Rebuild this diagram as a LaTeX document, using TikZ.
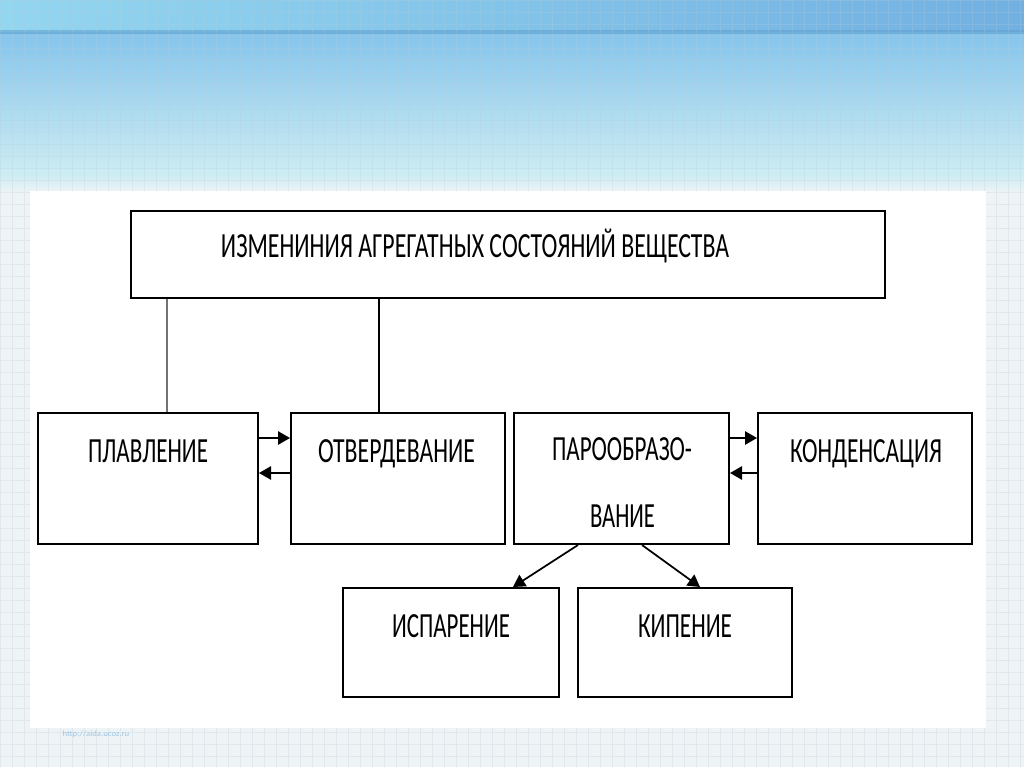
\documentclass[tikz,border=0pt]{standalone}
\usepackage{fontspec}
\setmainfont{Carlito}
\usetikzlibrary{arrows.meta,calc,fit}
\newcommand\fitw[2]{\resizebox{#1}{\height}{#2}}
\definecolor{bgc}{HTML}{EEF3F6}
\definecolor{gridc}{HTML}{B9CBD6}
\definecolor{banA}{HTML}{84C4EC}
\definecolor{banB}{HTML}{CDEDF3}
\definecolor{stripL}{HTML}{92D6F0}
\definecolor{stripR}{HTML}{72B0E2}
\definecolor{stripline}{HTML}{5F9FCF}
\definecolor{urlc}{HTML}{9CC4E4}
\begin{document}
\begin{tikzpicture}[x=0.75pt,y=-0.75pt,
  box/.style={draw=black, line width=1.5pt, fill=white, inner sep=0pt},
  lbl/.style={anchor=base, inner sep=0pt, text=black, font=\fontsize{26.5}{30}\selectfont},
  arr/.style={-{Triangle[length=9pt,width=10pt]}, line width=1.3pt},
  link/.style={line width=1pt}]
\useasboundingbox (0,0) rectangle (1024,767);
% background
\fill[bgc] (0,0) rectangle (1024,767);
\shade[top color=banA, bottom color=banB] (0,32) rectangle (1024,175);
\shade[left color=stripL, right color=stripR] (0,0) rectangle (1024,32);
\fill[stripline, opacity=0.55] (0,30) rectangle (1024,34);
\shade[top color=banB, bottom color=bgc] (0,175) rectangle (1024,192);
\draw[gridc, opacity=0.25, line width=0.4pt, step=9pt] (0,0) grid (1024,767);
\fill[white] (30,191) rectangle (986,728);
\node[anchor=base, inner sep=0pt, text=urlc, font=\fontsize{6}{7}\selectfont] (url) at (96,736) {\fitw{50pt}{http://aida.ucoz.ru}};
% boxes
\node[box, fit={(131,211) (885,298)}] (top) {};
\node[box, fit={(38,413) (258,544)}] (pl) {};
\node[box, fit={(291,413) (505,544)}] (otv) {};
\node[box, fit={(514,413) (729,544)}] (par) {};
\node[box, fit={(758,413) (972,544)}] (kon) {};
\node[box, fit={(343,588) (559,697)}] (isp) {};
\node[box, fit={(578,588) (792,697)}] (kip) {};
% labels
\node[lbl] (tTop) at (475,257) {\fitw{381pt}{ИЗМЕНИНИЯ АГРЕГАТНЫХ СОСТОЯНИЙ ВЕЩЕСТВА}};
\node[lbl] (tPl) at (148,462) {\fitw{90pt}{ПЛАВЛЕНИЕ}};
\node[lbl] (tOtv) at (396.5,462) {\fitw{117.75pt}{ОТВЕРДЕВАНИЕ}};
\node[lbl] (tPar1) at (622,460) {\fitw{105pt}{ПАРООБРАЗО-}};
\node[lbl] (tPar2) at (622.5,527) {\fitw{48.75pt}{ВАНИЕ}};
\node[lbl] (tKon) at (866,462) {\fitw{114pt}{КОНДЕНСАЦИЯ}};
\node[lbl] (tIsp) at (451,637) {\fitw{88.5pt}{ИСПАРЕНИЕ}};
\node[lbl] (tKip) at (685,637) {\fitw{70.5pt}{КИПЕНИЕ}};
% connectors from top box
\coordinate (a1) at ($(pl.north)+(19,0)$);
\coordinate (a2) at ($(otv.north)+(-19,0)$);
\draw[link, draw=black!55, line width=0.8pt] (a1) -- (top.south -| a1);
\draw[link] (a2) -- (top.south -| a2);
% horizontal arrows
\draw[arr] ($(pl.east)+(0,-40.5)$) -- ($(otv.west)+(0,-40.5)$);
\draw[arr] ($(otv.west)+(0,-5.5)$) -- ($(pl.east)+(0,-5.5)$);
\draw[arr] ($(par.east)+(0,-40.5)$) -- ($(kon.west)+(0,-40.5)$);
\draw[arr] ($(kon.west)+(0,-5.5)$) -- ($(par.east)+(0,-5.5)$);
% diagonal arrows
\draw[arr] ($(par.south)+(-43.5,0)$) -- ($(isp.north)+(62,0)$);
\draw[arr] ($(par.south)+(20.5,0)$) -- ($(kip.north)+(15,0)$);
\end{tikzpicture}
\end{document}
